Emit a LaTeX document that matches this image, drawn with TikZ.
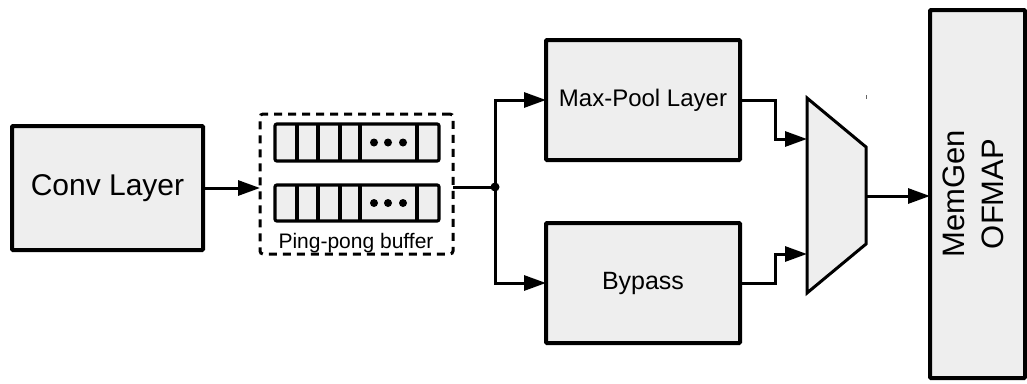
\documentclass[tikz,border=0pt]{standalone}
\usepackage{fontspec}
\setmainfont{Liberation Sans}
\usetikzlibrary{arrows.meta}
\definecolor{boxfill}{HTML}{EEEEEE}
\tikzset{
  block/.style={draw=black, fill=boxfill, line width=4pt, rounded corners=1pt,
    inner sep=0pt, outer sep=0pt, align=center},
  cell/.style={draw=black, fill=boxfill, line width=3.2pt},
  wire/.style={draw=black, line width=3pt},
  flow/.style={wire, -{Triangle[length=22pt,width=15pt]}},
  dot/.style={fill=black, circle, inner sep=0pt, minimum size=9pt},
}
\newcommand{\fs}[1]{\fontsize{#1}{#1}\selectfont}
\begin{document}
\begin{tikzpicture}[x=1pt,y=-1pt]
\useasboundingbox (0,0) rectangle (1027,383);

% main blocks
\node[block, minimum width=191pt, minimum height=124pt] (conv) at (107.5,188) {\fs{30}Conv Layer};
\node[block, minimum width=194pt, minimum height=120pt] (pool) at (643,100) {\fs{24}Max-Pool Layer};
\node[block, minimum width=194pt, minimum height=120pt] (byp) at (643,283) {\fs{25}Bypass};
\node[block, minimum width=95pt, minimum height=368pt] (mem) at (977.5,194)
  {\rotatebox{90}{\fs{31}\begin{tabular}{@{}c@{}}MemGen\\[8pt]OFMAP\end{tabular}}};

% ping-pong buffer
\node[draw=black, line width=3pt, dash pattern=on 8pt off 6pt, rounded corners=3pt,
  minimum width=193pt, minimum height=140pt, inner sep=0pt, outer sep=0pt] (buf) at (356.5,184) {};
\foreach \yt/\yb in {124/161, 185/221} {
  \draw[cell, rounded corners=2pt] (275,\yt) rectangle (439,\yb);
  \foreach \xx in {297,318,340,360,417} \draw[line width=3.2pt] (\xx,\yt) -- (\xx,\yb);
  \foreach \xx in {374,388,403} \fill (\xx,{(\yt+\yb)/2}) circle (4pt);
}
\node[inner sep=0pt] (buflabel) at (356,243) {\fs{21}Ping-pong buffer};

% multiplexer
\coordinate (mtl) at (807,98);
\coordinate (mbl) at (807,293);
\coordinate (mtr) at (866,147);
\coordinate (mbr) at (866,244);
\draw[fill=boxfill, line width=3pt, line join=miter] (mtl) -- (mtr) -- (mbr) -- (mbl) -- cycle;
\coordinate (min1) at (807,139);
\coordinate (min2) at (807,254);
\coordinate (mout) at (866,196);
\draw[line width=1pt, black!60] (866,95) -- (866,99);

% connectors
\coordinate (j) at (495,187);
\draw[flow] (conv.east) -- (buf.west |- conv.east);
\draw[wire] (buf.east |- j) -- (j);
\node[dot] (jdot) at (j) {};
\draw[flow] (j) |- (pool.west);
\draw[flow] (j) |- (byp.west);
\draw[flow] (pool.east) -- ++(35,0) |- (min1);
\draw[flow] (byp.east) -- ++(35,0) |- (min2);
\draw[flow] (mout) -- (mem.west |- mout);
\end{tikzpicture}
\end{document}
